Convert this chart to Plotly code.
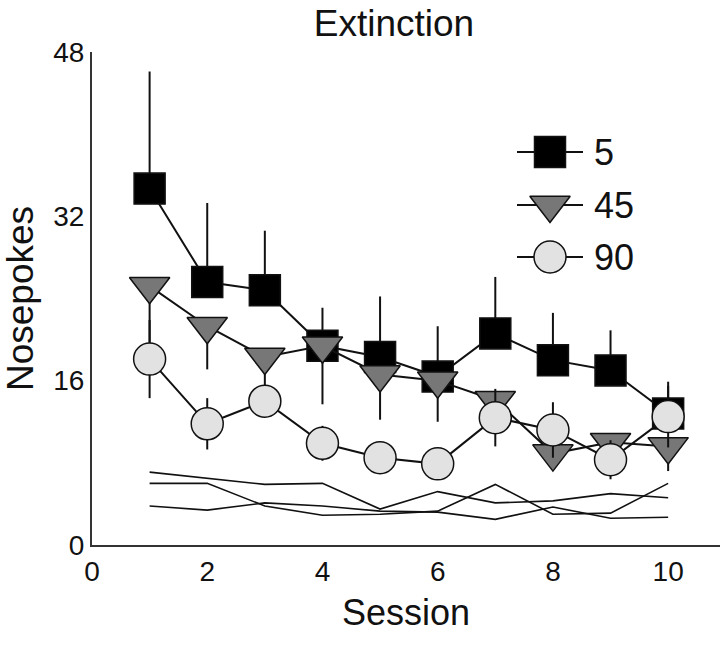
import plotly.graph_objects as go

# ---------------- data ----------------
sessions = [1, 2, 3, 4, 5, 6, 7, 8, 9, 10]

# group means (Nosepokes)
mean_5 = [34.7, 25.6, 24.8, 19.4, 18.3, 16.4, 20.6, 18.0, 17.0, 12.8]
err_5 = [11.4, 7.7, 5.8, 3.7, 5.9, 4.9, 5.5, 4.6, 3.9, 3.1]

mean_45 = [25.2, 21.3, 18.3, 19.4, 16.6, 16.0, 14.1, 8.9, 10.0, 9.6]
err_45 = [5.5, 4.2, 3.0, 5.7, 4.4, 4.0, 2.0, 1.5, 1.5, 2.4]

mean_90 = [18.1, 11.8, 14.0, 9.9, 8.5, 7.9, 12.4, 11.2, 8.3, 12.5]
err_90 = [3.8, 2.5, 1.5, 1.7, 1.0, 1.0, 2.8, 2.7, 1.9, 3.0]

# thin individual lines near the bottom
indiv_a = [7.1, 6.5, 5.9, 6.0, 3.5, 5.2, 4.1, 4.3, 5.0, 4.6]
indiv_b = [6.0, 6.0, 3.8, 2.9, 3.0, 3.3, 5.9, 3.0, 3.1, 6.0]
indiv_c = [3.8, 3.4, 4.1, 3.8, 3.3, 3.2, 2.5, 3.7, 2.6, 2.7]

series_names = ["5", "45", "90"]
x_ticks = [0, 2, 4, 6, 8, 10]
y_ticks = [0, 16, 32, 48]

FONT = "Liberation Sans, Arial, sans-serif"
zeros = [0] * len(sessions)

fig = go.Figure()

for vals in (indiv_a, indiv_b, indiv_c):
    fig.add_trace(go.Scatter(x=sessions, y=vals, mode="lines",
                             line=dict(color="#111", width=1.6),
                             showlegend=False, hoverinfo="skip"))

styles = [
    dict(symbol="square", color="#000000", size=31),
    dict(symbol="triangle-down", color="#777777", size=35),
    dict(symbol="circle", color="#e2e2e2", size=32),
]
errs = [
    dict(type="data", symmetric=False, array=err_5, arrayminus=zeros),
    dict(type="data", symmetric=False, array=zeros, arrayminus=err_45),
    dict(type="data", symmetric=True, array=err_90),
]
means = [mean_5, mean_45, mean_90]

for name, m, e, st in zip(series_names, means, errs, styles):
    e.update(color="#111", thickness=2, width=0)
    fig.add_trace(go.Scatter(
        x=sessions, y=m, mode="lines+markers", name=name,
        line=dict(color="#111", width=2),
        marker=dict(symbol=st["symbol"], size=st["size"], color=st["color"],
                    line=dict(color="#111", width=1.5)),
        error_y=e, showlegend=False))

# custom legend drawn on an overlay axis measured in pixels of the plot area
leg_y = [393, 340, 288]
for name, st, ly in zip(series_names, styles, leg_y):
    fig.add_trace(go.Scatter(x=[425, 491], y=[ly, ly], mode="lines",
                             line=dict(color="#111", width=2),
                             xaxis="x2", yaxis="y2", showlegend=False,
                             hoverinfo="skip"))
    fig.add_trace(go.Scatter(x=[458], y=[ly], mode="markers",
                             marker=dict(symbol=st["symbol"], size=st["size"],
                                         color=st["color"],
                                         line=dict(color="#111", width=1.5)),
                             xaxis="x2", yaxis="y2", showlegend=False,
                             hoverinfo="skip"))
    fig.add_annotation(x=500, y=ly, xref="x2", yref="y2", text=name,
                       showarrow=False, xanchor="left", yanchor="middle",
                       font=dict(family=FONT, size=36, color="#111"))

fig.update_layout(
    width=720, height=649,
    margin=dict(l=92, r=0, t=52, b=104, autoexpand=False),
    paper_bgcolor="white", plot_bgcolor="white",
    font=dict(family=FONT, color="#111"),
    title=dict(text="Extinction", x=394 / 720, xanchor="center",
               y=1 - 23 / 649, yanchor="middle", yref="container",
               font=dict(family=FONT, size=37, color="#111")),
    xaxis=dict(range=[0, 10.9], tickvals=x_ticks, showline=True,
               linecolor="#333", linewidth=2, ticks="", showgrid=False,
               zeroline=False, tickfont=dict(size=28), automargin=False,
               title=dict(text="Session", font=dict(size=36), standoff=14)),
    yaxis=dict(range=[0, 48], tickvals=y_ticks, showline=True,
               linecolor="#333", linewidth=2, ticks="", showgrid=False,
               zeroline=False, tickfont=dict(size=28), automargin=False,
               title=dict(text="Nosepokes", font=dict(size=37), standoff=14)),
    xaxis2=dict(range=[0, 628], overlaying="x", visible=False),
    yaxis2=dict(range=[0, 493], overlaying="y", visible=False),
)

fig.write_html("out.html",
               config={"displayModeBar": False},
               post_script="document.body.style.margin='0';"
                           "document.body.style.padding='0';")
